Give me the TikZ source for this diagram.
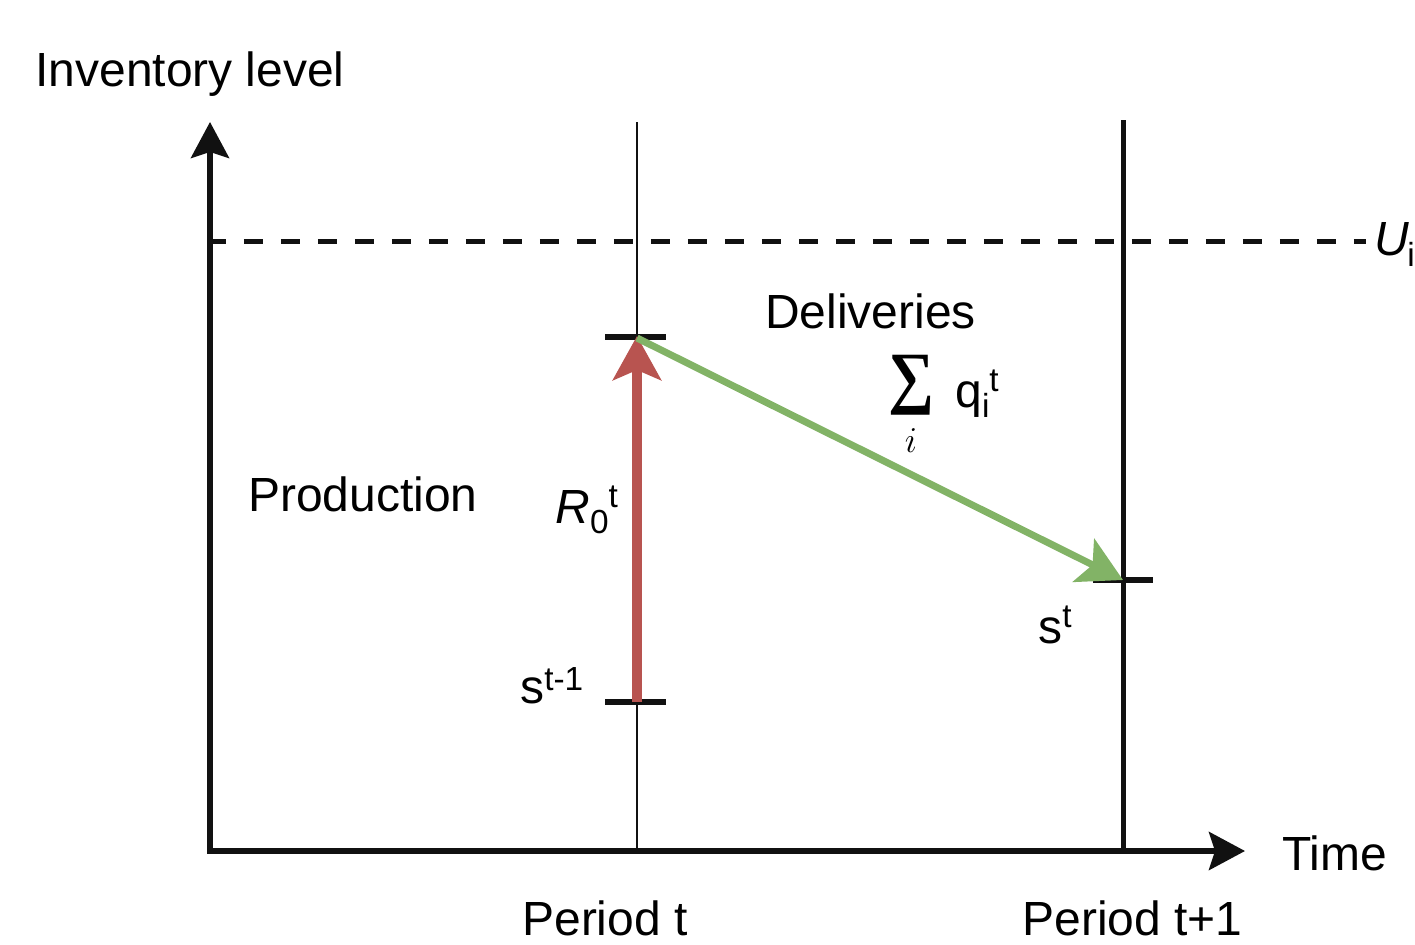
\documentclass[tikz,border=0pt]{standalone}
\usepackage{fontspec}
\setmainfont{Liberation Sans}
\newfontfamily\sumfont{Liberation Serif}
\usetikzlibrary{arrows.meta}
\definecolor{prodred}{HTML}{B85450}
\definecolor{delgreen}{HTML}{82B366}
\definecolor{axisblack}{HTML}{111111}
\newcommand\lblfont{\fontsize{27.3}{32}\selectfont}
\newcommand\scrfont{\fontsize{19}{19}\selectfont}
\newcommand\upsc[1]{\raisebox{9pt}{\scrfont #1}}
\newcommand\dnsc[1]{\raisebox{-6pt}{\scrfont #1}}
\begin{document}
\begin{tikzpicture}[x=0.02cm,y=-0.02cm,
  lbl/.style={inner sep=0pt,anchor=base west,font=\lblfont},
  axisline/.style={line width=0.11cm,draw=axisblack},
  axistip/.style={-{Stealth[length=0.72cm,width=0.76cm,inset=0.12cm]}},
  tickline/.style={line width=0.12cm,draw=axisblack},
  bigtip/.style={-{Stealth[length=0.88cm,width=0.96cm,inset=0.2cm]}}
]
\useasboundingbox (0,0) rectangle (1415,945);
% coordinates
\coordinate (o) at (210,851);
\coordinate (ytop) at (210,122);
\coordinate (xend) at (1245,851);
\coordinate (pt0) at (637,851);
\coordinate (pt1) at (637,122);
\coordinate (pq0) at (1123,851);
\coordinate (pq1) at (1123,120);
\coordinate (u0) at (207,242);
\coordinate (u1) at (1366,242);
\coordinate (slow) at (637,702);
\coordinate (shigh) at (637,338);
\coordinate (snext) at (1123,580);
\coordinate (tl0) at (605,702);
\coordinate (tl1) at (666,702);
\coordinate (th0) at (605,337);
\coordinate (th1) at (666,337);
\coordinate (tn0) at (1093,580);
\coordinate (tn1) at (1153,580);
% period lines
\draw[line width=0.055cm,draw=axisblack] (pt0) -- (pt1);
\draw[line width=0.1cm,draw=axisblack] (pq0) -- (pq1);
% capacity line
\draw[line width=0.1cm,draw=axisblack,dash pattern=on 0.38cm off 0.36cm] (u0) -- (u1);
% axes
\draw[axisline,axistip] (o) -- (ytop);
\draw[axisline,axistip] ([xshift=-0.055cm]o) -- (xend);
% ticks
\draw[tickline] (tl0) -- (tl1);
\draw[tickline] (th0) -- (th1);
\draw[tickline] (tn0) -- (tn1);
% production and delivery arrows
\draw[line width=0.19cm,draw=prodred,fill=prodred,bigtip] (slow) -- ([yshift=0.04cm]shigh);
\draw[line width=0.14cm,draw=delgreen,fill=delgreen,bigtip] (shigh) -- (snext);
% labels
\node[lbl] (ylab) at (35,87) {Inventory level};
\node[lbl] (xlab) at (1282,870) {Time};
\node[lbl] (per1) at (522,935) {Period t};
\node[lbl] (per2) at (1022,935) {Period t+1};
\node[lbl] (prod) at (248,511) {Production};
\node[lbl] (deliv) at (765,329) {Deliveries};
\node[lbl] (rlab) at (555,523) {\itshape R\upshape\dnsc{0}\upsc{t}};
\node[lbl] (sprev) at (520,703) {s\raisebox{7pt}{\scrfont t-1}};
\node[lbl] (snew) at (1038,643) {s\upsc{t}};
\node[lbl] (qlab) at (955,407) {q\dnsc{i}\upsc{t}};
\node[lbl] (ulab) at (1374,256) {\itshape U\upshape\kern-1pt\dnsc{i}};
\node[inner sep=0pt] (sig) at (911,385) {\resizebox*{0.92cm}{1.2cm}{\sumfont\bfseries ∑}};
\node[inner sep=0pt] (sigi) at (911,441) {\fontsize{22}{22}\selectfont$i$};
\end{tikzpicture}
\end{document}
